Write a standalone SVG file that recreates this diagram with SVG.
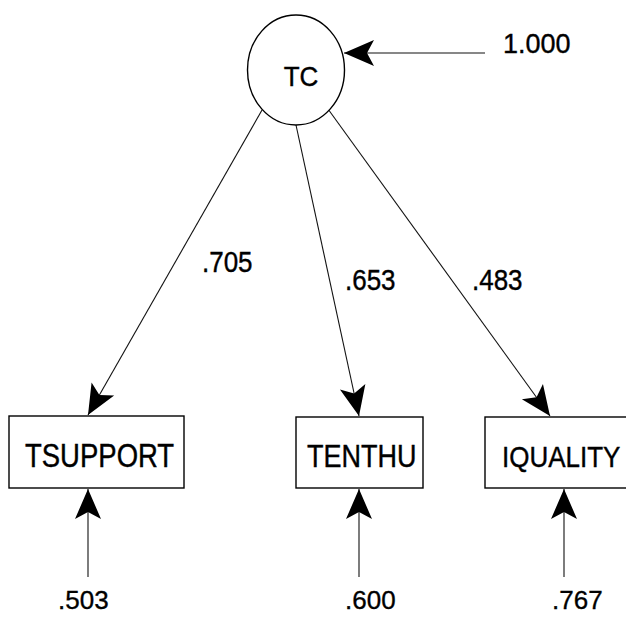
<svg xmlns="http://www.w3.org/2000/svg" width="626" height="617" viewBox="0 0 626 617">
<style>
  .t { font-family: "Liberation Sans", Arial, sans-serif; fill: #000; stroke: #000; stroke-width: 0.35; }
  .node { fill: #fff; stroke: #000; stroke-width: 1.4; }
  .edge { fill: none; stroke: #111; stroke-width: 1.1; marker-end: url(#arr); }
</style>
<defs>
  <marker id="arr" viewBox="-31 -14 32 28" refX="0" refY="0" markerWidth="32" markerHeight="28" markerUnits="userSpaceOnUse" orient="auto">
    <path d="M0,0 L-30,-13 L-23,0 L-30,13 Z" fill="#000"/>
  </marker>
</defs>
<rect width="626" height="617" fill="#fff"/>

<g id="connectors">
  <path class="edge" d="M262,110 L88,415"/>
  <path class="edge" d="M296,125 L359,416"/>
  <path class="edge" d="M328,109 L550,416"/>
  <path class="edge" d="M485,53 L344,53"/>
  <path class="edge" d="M88,577 L88,489"/>
  <path class="edge" d="M359,577 L359,489"/>
  <path class="edge" d="M564,577 L564,489"/>
  <text class="t" font-size="26" transform="translate(202,272) scale(1,1.15)">.705</text>
  <text class="t" font-size="26" transform="translate(345,290) scale(1,1.15)">.653</text>
  <text class="t" font-size="26" transform="translate(472,290) scale(1,1.15)">.483</text>
</g>

<g id="TC">
  <ellipse class="node" cx="296" cy="70" rx="48.5" ry="55"/>
  <text class="t" font-size="26" text-anchor="middle" transform="translate(301,86) scale(1,1.05)">TC</text>
</g>
<g id="TSUPPORT">
  <rect class="node" x="9" y="416" width="175" height="72"/>
  <text class="t" font-size="27.5" transform="translate(25,467) scale(1,1.18)">TSUPPORT</text>
</g>
<g id="TENTHU">
  <rect class="node" x="296" y="417" width="127" height="71"/>
  <text class="t" font-size="27" transform="translate(307,467) scale(1,1.18)">TENTHU</text>
</g>
<g id="IQUALITY">
  <rect class="node" x="485" y="417" width="145" height="71"/>
  <text class="t" font-size="26" transform="translate(502,467) scale(1,1.15)">IQUALITY</text>
</g>

<g id="residuals">
  <text class="t" font-size="27" transform="translate(503,53) scale(1,1.05)">1.000</text>
  <text class="t" font-size="26" transform="translate(58,609)">.503</text>
  <text class="t" font-size="26" transform="translate(345,609)">.600</text>
  <text class="t" font-size="26" transform="translate(552,609)">.767</text>
</g>
</svg>
